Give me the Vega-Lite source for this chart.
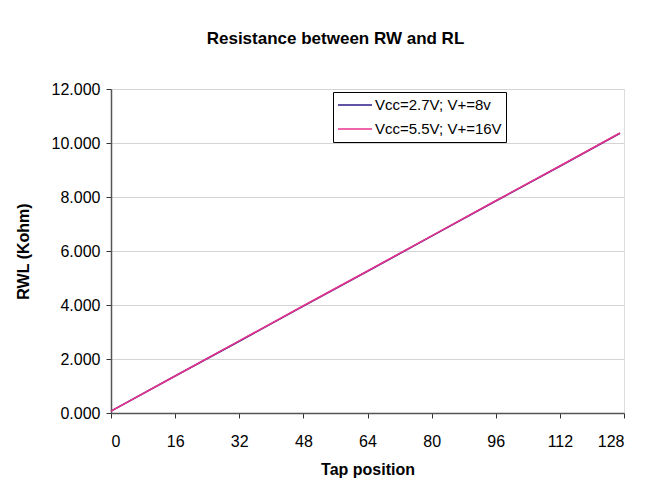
{
  "$schema": "https://vega.github.io/schema/vega-lite/v6.json",
  "width": 513,
  "height": 324,
  "autosize": {"type": "none"},
  "padding": {"left": 111, "top": 89, "right": 29, "bottom": 76},
  "background": "white",
  "title": {
    "text": "Resistance between RW and RL",
    "font": "Liberation Sans",
    "fontSize": 17,
    "fontWeight": "bold",
    "color": "black",
    "offset": 33,
    "dx": -32
  },
  "data": {
    "values": [
      {"tap": 0, "r": 0.07, "s": "Vcc=2.7V; V+=8v"},
      {"tap": 16, "r": 1.37, "s": "Vcc=2.7V; V+=8v"},
      {"tap": 32, "r": 2.66, "s": "Vcc=2.7V; V+=8v"},
      {"tap": 48, "r": 3.96, "s": "Vcc=2.7V; V+=8v"},
      {"tap": 64, "r": 5.25, "s": "Vcc=2.7V; V+=8v"},
      {"tap": 80, "r": 6.55, "s": "Vcc=2.7V; V+=8v"},
      {"tap": 96, "r": 7.85, "s": "Vcc=2.7V; V+=8v"},
      {"tap": 112, "r": 9.14, "s": "Vcc=2.7V; V+=8v"},
      {"tap": 127, "r": 10.36, "s": "Vcc=2.7V; V+=8v"},
      {"tap": 0, "r": 0.07, "s": "Vcc=5.5V; V+=16V"},
      {"tap": 16, "r": 1.37, "s": "Vcc=5.5V; V+=16V"},
      {"tap": 32, "r": 2.67, "s": "Vcc=5.5V; V+=16V"},
      {"tap": 48, "r": 3.97, "s": "Vcc=5.5V; V+=16V"},
      {"tap": 64, "r": 5.26, "s": "Vcc=5.5V; V+=16V"},
      {"tap": 80, "r": 6.56, "s": "Vcc=5.5V; V+=16V"},
      {"tap": 96, "r": 7.86, "s": "Vcc=5.5V; V+=16V"},
      {"tap": 112, "r": 9.15, "s": "Vcc=5.5V; V+=16V"},
      {"tap": 127, "r": 10.37, "s": "Vcc=5.5V; V+=16V"}
    ]
  },
  "mark": {"type": "line", "strokeWidth": 1.6},
  "encoding": {
    "x": {
      "field": "tap",
      "type": "quantitative",
      "scale": {"domain": [0, 128], "nice": false},
      "axis": {
        "values": [0, 16, 32, 48, 64, 80, 96, 112, 128],
        "title": "Tap position",
        "grid": false,
        "domainColor": "#555555",
        "domainWidth": 1.5,
        "tickColor": "#333333",
        "tickSize": 5,
        "labelPadding": 15,
        "labelFont": "Liberation Sans",
        "labelFontSize": 16,
        "labelColor": "black",
        "titleFont": "Liberation Sans",
        "titleFontSize": 16,
        "titleFontWeight": "bold",
        "titleColor": "black",
        "titlePadding": 12
      }
    },
    "y": {
      "field": "r",
      "type": "quantitative",
      "scale": {"domain": [0, 12], "nice": false},
      "axis": {
        "values": [0, 2, 4, 6, 8, 10, 12],
        "format": ".3f",
        "title": "RWL (Kohm)",
        "grid": true,
        "gridColor": "#d4d4d4",
        "domainColor": "#555555",
        "domainWidth": 1.5,
        "tickColor": "#333333",
        "tickSize": 5,
        "labelPadding": 6,
        "labelFont": "Liberation Sans",
        "labelFontSize": 16,
        "labelColor": "black",
        "titleFont": "Liberation Sans",
        "titleFontSize": 16,
        "titleFontWeight": "bold",
        "titleColor": "black",
        "titlePadding": 20
      }
    },
    "color": {
      "field": "s",
      "type": "nominal",
      "scale": {
        "domain": ["Vcc=2.7V; V+=8v", "Vcc=5.5V; V+=16V"],
        "range": ["#2E1A87", "#E8338C"]
      },
      "legend": {
        "title": null,
        "orient": "none",
        "legendX": 222,
        "legendY": 3,
        "strokeColor": "black",
        "fillColor": "white",
        "padding": 4,
        "symbolType": "stroke",
        "symbolSize": 1156,
        "symbolStrokeWidth": 1.6,
        "clipHeight": 18,
        "rowPadding": 6,
        "labelFont": "Liberation Sans",
        "labelFontSize": 15,
        "labelColor": "black",
        "labelOffset": 2,
        "cornerRadius": 0
      }
    },
    "order": {"field": "s"}
  }
}
